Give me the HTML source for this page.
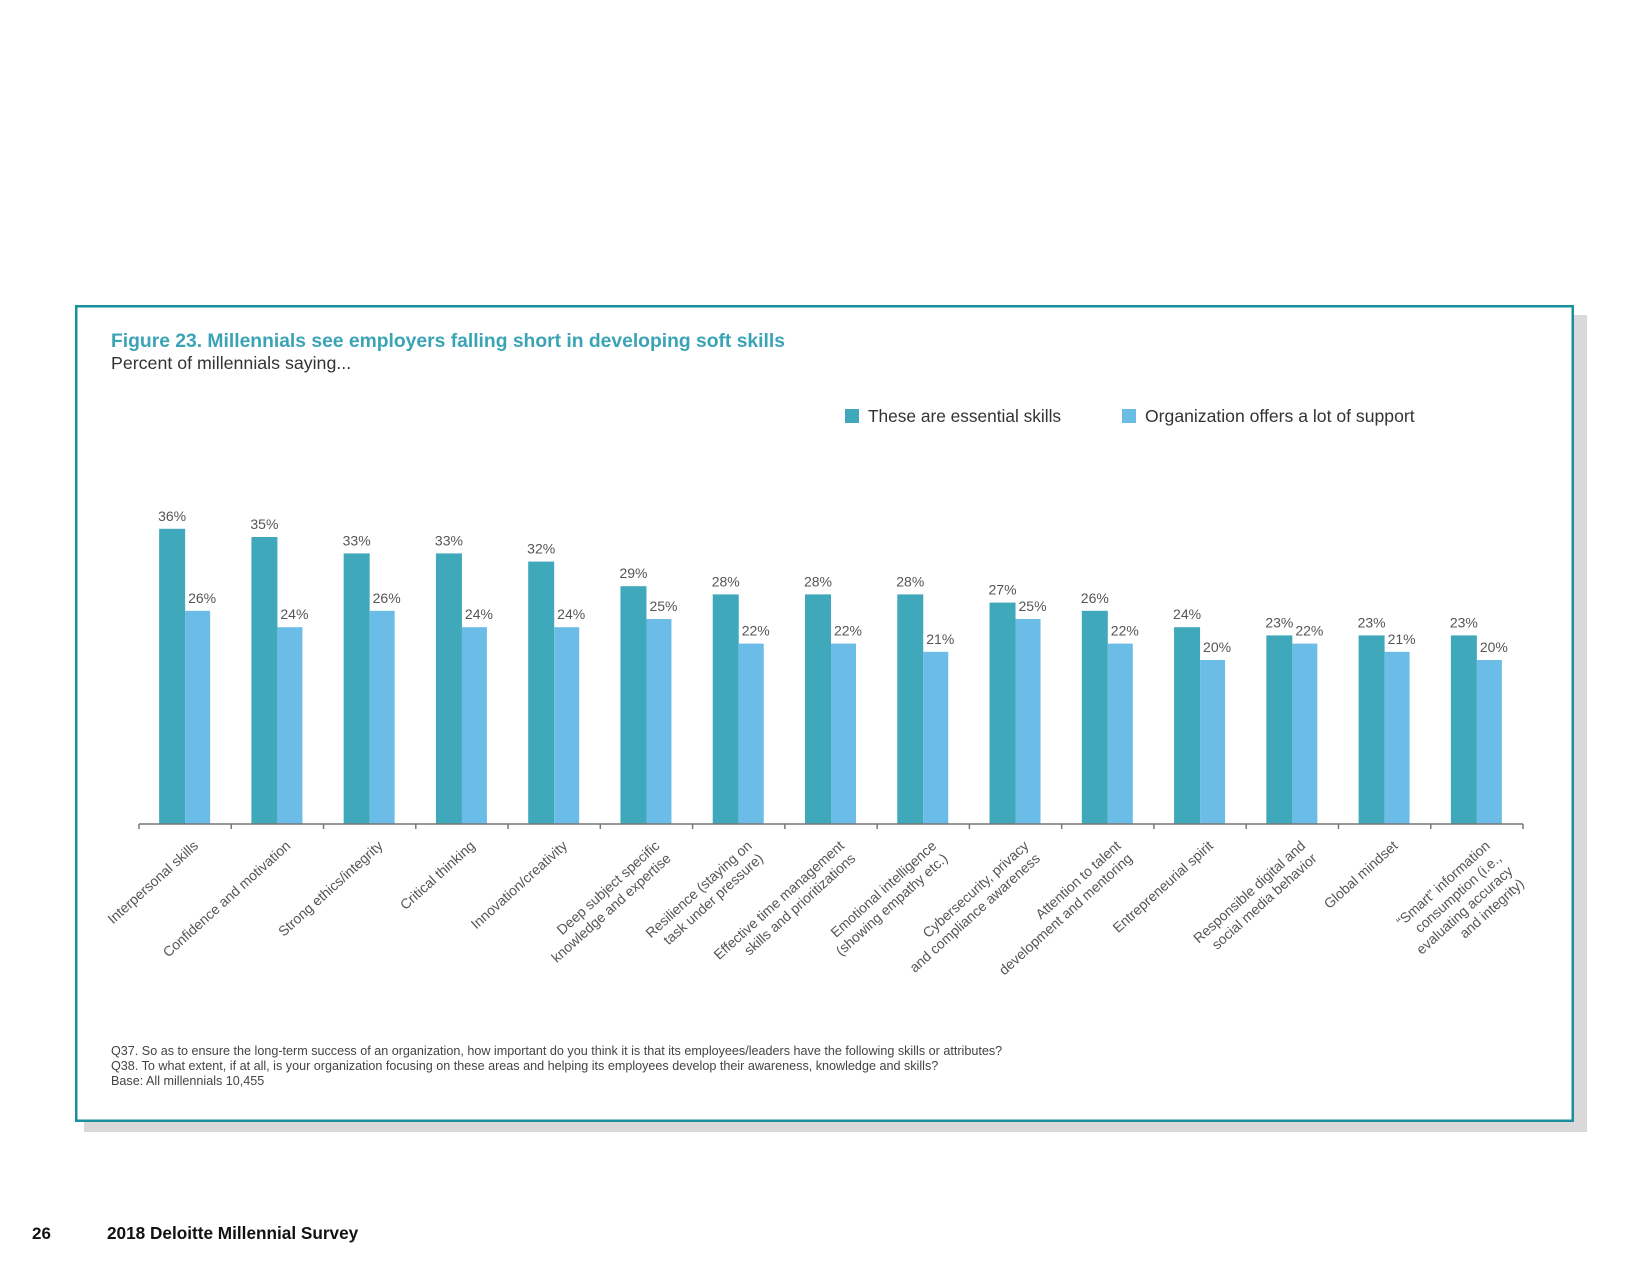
<!DOCTYPE html>
<html><head><meta charset="utf-8"><style>
html,body{margin:0;padding:0;background:#fff;}
svg{display:block;font-family:"Liberation Sans",sans-serif;}
</style></head><body>
<svg id="chart" width="1650" height="1275" viewBox="0 0 1650 1275">
<rect x="84" y="315" width="1503" height="817" fill="#d9d9d9"/>
<rect x="76.25" y="306.25" width="1496.5" height="814.5" fill="#fff" stroke="#1a8f9e" stroke-width="2.5"/>
<text x="111" y="347" font-size="19.3" font-weight="bold" fill="#3aa4b6">Figure 23. Millennials see employers falling short in developing soft skills</text>
<text x="111" y="369" font-size="17.8" fill="#333">Percent of millennials saying...</text>
<g>
<rect x="845" y="409" width="14" height="14" fill="#3fa8bb"/>
<text x="868" y="422" font-size="17.3" fill="#333">These are essential skills</text>
<rect x="1122" y="409" width="14" height="14" fill="#6bbde8"/>
<text x="1145" y="422" font-size="17.6" fill="#333">Organization offers a lot of support</text>
</g>
<g id="plot"></g>
<g font-size="12.6" fill="#444">
<text x="111" y="1055">Q37. So as to ensure the long-term success of an organization, how important do you think it is that its employees/leaders have the following skills or attributes?</text>
<text x="111" y="1070">Q38. To what extent, if at all, is your organization focusing on these areas and helping its employees develop their awareness, knowledge and skills?</text>
<text x="111" y="1085">Base: All millennials 10,455</text>
</g>
<text x="32" y="1239" font-size="17" font-weight="bold" fill="#111">26</text>
<text x="107" y="1239" font-size="17.2" font-weight="bold" fill="#111">2018 Deloitte Millennial Survey</text>
</svg>
<script>
const categories = [
  ["Interpersonal skills"],
  ["Confidence and motivation"],
  ["Strong ethics/integrity"],
  ["Critical thinking"],
  ["Innovation/creativity"],
  ["Deep subject specific","knowledge and expertise"],
  ["Resilience (staying on","task under pressure)"],
  ["Effective time management","skills and prioritizations"],
  ["Emotional intelligence","(showing empathy etc.)"],
  ["Cybersecurity, privacy","and compliance awareness"],
  ["Attention to talent","development and mentoring"],
  ["Entrepreneurial spirit"],
  ["Responsible digital and","social media behavior"],
  ["Global mindset"],
  ["\u201CSmart\u201D information","consumption (i.e.,","evaluating accuracy","and integrity)"]
];
const essential = [36,35,33,33,32,29,28,28,28,27,26,24,23,23,23];
const support = [26,24,26,24,24,25,22,22,21,25,22,20,22,21,20];

const NS = "http://www.w3.org/2000/svg";
const plot = document.getElementById("plot");
const axisLeft = 139, axisRight = 1523, axisY = 824, pxPerPct = 8.2;
const step = (axisRight - axisLeft) / categories.length;
function xCenter(i){ return axisLeft + step * (i + 0.5); }
function yScale(v){ return axisY - v * pxPerPct; }
function mk(tag, attrs){ const e = document.createElementNS(NS, tag); for (const k in attrs) e.setAttribute(k, attrs[k]); return e; }

categories.forEach((lines, i) => {
  const cx = xCenter(i);
  const yE = yScale(essential[i]);
  const r1 = mk("rect", {x: cx - 26, y: yE, width: 26, height: axisY - yE, fill: "#3fa8bb"});
  
  
  plot.appendChild(r1);
  const yS = yScale(support[i]);
  const r2 = mk("rect", {x: cx, y: yS, width: 25, height: axisY - yS, fill: "#6bbde8"});
  
  
  plot.appendChild(r2);
  const t1 = mk("text", {x: cx - 13, y: yE - 8, "text-anchor": "middle", "font-size": 14, fill: "#555"});
  t1.textContent = essential[i] + "%";
  
  
  plot.appendChild(t1);
  const t2 = mk("text", {x: cx + 17, y: yS - 8, "text-anchor": "middle", "font-size": 14, fill: "#555"});
  t2.textContent = support[i] + "%";
  
  
  plot.appendChild(t2);
  const g = mk("g", {transform: "translate(" + (cx + 14) + ",847) rotate(-42)"});
  
  
  const tx = mk("text", {"text-anchor": "end", "font-size": 14, fill: "#555"});
  lines.forEach((ln, j) => {
    const ts = mk("tspan", {x: 0, y: j * 17});
    ts.textContent = ln;
    tx.appendChild(ts);
  });
  g.appendChild(tx);
  plot.appendChild(g);
});
for (let i = 0; i <= categories.length; i++) {
  const x = axisLeft + step * i;
  const tk = mk("line", {x1: x, x2: x, y1: axisY, y2: axisY + 5, stroke: "#777", "stroke-width": 1.5});
  
  
  plot.appendChild(tk);
}
const ax = mk("line", {x1: axisLeft, x2: axisRight, y1: axisY, y2: axisY, stroke: "#777", "stroke-width": 1.5});


plot.appendChild(ax);
</script>
</body></html>
